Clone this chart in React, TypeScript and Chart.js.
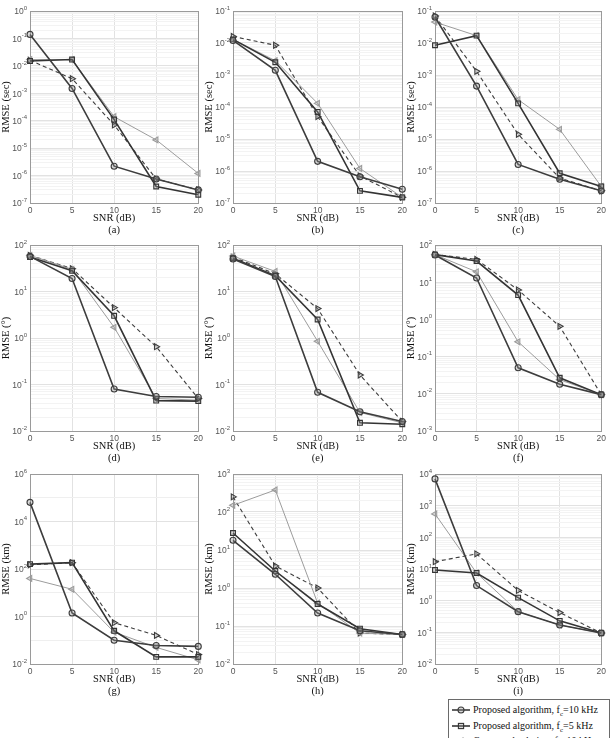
import React, { useEffect, useRef } from "react";
import { Chart, registerables } from "chart.js";

Chart.register(...registerables);

// SNR sweep shared by every panel
const snr = [0, 5, 10, 15, 20];

// Legend entries
const algorithmNames = ["Proposed algorithm", "Proposed algorithm", "Compared solution", "Compared solution"];
const carrierFreqs = ["10 kHz", "5 kHz", "10 kHz", "5 kHz"];

// (a) delay RMSE, sec
const aProp10 = [0.14, 1.5e-3, 2.2e-6, 7.5e-7, 3e-7];
const aProp5 = [1.5e-2, 1.7e-2, 1.1e-4, 4e-7, 2e-7];
const aComp10 = [1.7e-2, 1.7e-2, 1.4e-4, 2e-5, 1.2e-6];
const aComp5 = [1.6e-2, 3.4e-3, 7e-5, 7.5e-7, 3e-7];

// (b) delay RMSE, sec
const bProp10 = [1.2e-2, 1.4e-3, 2e-6, 6.6e-7, 2.7e-7];
const bProp5 = [1.3e-2, 2.5e-3, 7e-5, 2.4e-7, 1.5e-7];
const bComp10 = [1.3e-2, 2.8e-3, 1.3e-4, 1.2e-6, 1.5e-7];
const bComp5 = [1.6e-2, 8.5e-3, 5e-5, 7e-7, 1.5e-7];

// (c) delay RMSE, sec
const cProp10 = [6.5e-2, 4.5e-4, 1.6e-6, 5.5e-7, 2.4e-7];
const cProp5 = [8.5e-3, 1.7e-2, 1.3e-4, 8.5e-7, 3.3e-7];
const cComp10 = [4.5e-2, 1.7e-2, 1.7e-4, 2e-5, 3.3e-7];
const cComp5 = [7e-2, 1.3e-3, 1.4e-5, 6e-7, 2.4e-7];

// (d) angle RMSE, degrees
const dProp10 = [57, 19, 0.08, 0.055, 0.053];
const dProp5 = [55, 28, 3.0, 0.045, 0.044];
const dComp10 = [60, 30, 1.7, 0.05, 0.046];
const dComp5 = [60, 31, 4.5, 0.65, 0.05];

// (e) angle RMSE, degrees
const eProp10 = [50, 21, 0.068, 0.026, 0.016];
const eProp5 = [52, 22, 2.5, 0.015, 0.014];
const eComp10 = [58, 27, 0.85, 0.025, 0.015];
const eComp5 = [55, 24, 4.3, 0.16, 0.016];

// (f) angle RMSE, degrees
const fProp10 = [54, 13, 0.05, 0.018, 0.0095];
const fProp5 = [55, 37, 4.5, 0.027, 0.0095];
const fComp10 = [55, 19, 0.25, 0.024, 0.0095];
const fComp5 = [56, 41, 6.2, 0.65, 0.0095];

// (g) range RMSE, km
const gProp10 = [6.4e4, 1.4, 0.1, 0.06, 0.055];
const gProp5 = [160, 185, 0.25, 0.02, 0.02];
const gComp10 = [40, 14, 0.22, 0.05, 0.015];
const gComp5 = [150, 185, 0.55, 0.16, 0.025];

// (h) range RMSE, km
const hProp10 = [18, 2.3, 0.22, 0.075, 0.06];
const hProp5 = [28, 2.8, 0.38, 0.085, 0.06];
const hComp10 = [150, 380, 0.4, 0.065, 0.06];
const hComp5 = [250, 3.8, 1.0, 0.065, 0.06];

// (i) range RMSE, km
const iProp10 = [7000, 3.0, 0.45, 0.17, 0.095];
const iProp5 = [9.3, 7.5, 1.25, 0.23, 0.095];
const iComp10 = [550, 7.5, 0.45, 0.17, 0.095];
const iComp5 = [17, 30, 2.1, 0.42, 0.095];

// Grid placement of the plot boxes (page pixels)
const colLeft = [30, 233, 435];
const colRight = [200, 404, 603];
const rowTop = [11, 245, 474];
const rowBottom = [203, 431, 664];

type PanelDef = {
  tag: string;
  yTitle: string;
  yMin: number;
  yMax: number;
  step: number;
  minor: boolean;
  series: number[][];
};

const panels: PanelDef[] = [
  { tag: "(a)", yTitle: "RMSE (sec)", yMin: 1e-7, yMax: 1, step: 1, minor: true, series: [aProp10, aProp5, aComp10, aComp5] },
  { tag: "(b)", yTitle: "RMSE (sec)", yMin: 1e-7, yMax: 1e-1, step: 1, minor: true, series: [bProp10, bProp5, bComp10, bComp5] },
  { tag: "(c)", yTitle: "RMSE (sec)", yMin: 1e-7, yMax: 1e-1, step: 1, minor: true, series: [cProp10, cProp5, cComp10, cComp5] },
  { tag: "(d)", yTitle: "RMSE (°)", yMin: 1e-2, yMax: 1e2, step: 1, minor: true, series: [dProp10, dProp5, dComp10, dComp5] },
  { tag: "(e)", yTitle: "RMSE (°)", yMin: 1e-2, yMax: 1e2, step: 1, minor: true, series: [eProp10, eProp5, eComp10, eComp5] },
  { tag: "(f)", yTitle: "RMSE (°)", yMin: 1e-3, yMax: 1e2, step: 1, minor: true, series: [fProp10, fProp5, fComp10, fComp5] },
  { tag: "(g)", yTitle: "RMSE (km)", yMin: 1e-2, yMax: 1e6, step: 2, minor: false, series: [gProp10, gProp5, gComp10, gComp5] },
  { tag: "(h)", yTitle: "RMSE (km)", yMin: 1e-2, yMax: 1e3, step: 1, minor: true, series: [hProp10, hProp5, hComp10, hComp5] },
  { tag: "(i)", yTitle: "RMSE (km)", yMin: 1e-2, yMax: 1e4, step: 1, minor: true, series: [iProp10, iProp5, iComp10, iComp5] },
];

// Series styling: dark solid with circles, dark solid with squares,
// light solid with left triangles, dark dashed with right triangles
const lineColors = ["#3d3d3d", "#343434", "#9c9c9c", "#3d3d3d"];
const lineWidths = [1.6, 1.6, 1, 1.1];
const lineDashes = [[], [], [], [4, 3]];
const pointStyles = ["circle", "rect", "triangle", "triangle"];
const pointRotations = [0, 0, -90, 90];
const pointRadii = [3, 3.4, 3.4, 3.4];

const SANS = "'Liberation Sans', Arial, sans-serif";
const SERIF = "'Liberation Serif', 'Times New Roman', serif";

const isDecade = (v: number) => {
  const l = Math.log10(v);
  return Math.abs(l - Math.round(l)) < 1e-6;
};

// Box outline under the data, power-of-ten labels after everything
const framePlugin = {
  id: "frameAndLogLabels",
  beforeDatasetsDraw(chart: any) {
    const { ctx, chartArea } = chart;
    const { left, top, right, bottom } = chartArea;
    ctx.save();
    ctx.strokeStyle = "#9a9a9a";
    ctx.lineWidth = 1;
    ctx.strokeRect(Math.round(left) + 0.5, Math.round(top) + 0.5, Math.round(right - left), Math.round(bottom - top));
    ctx.restore();
  },
  afterDraw(chart: any) {
    const { ctx, chartArea } = chart;
    const ys = chart.scales.y;
    const step = chart.options.plugins.frameAndLogLabels.step;
    const e0 = Math.round(Math.log10(ys.min));
    const e1 = Math.round(Math.log10(ys.max));
    ctx.save();
    ctx.fillStyle = "#555";
    ctx.textBaseline = "middle";
    ctx.textAlign = "left";
    for (let e = e0; e <= e1; e += step) {
      const py = ys.getPixelForValue(Math.pow(10, e));
      const exp = String(e);
      ctx.font = `6px ${SANS}`;
      const w2 = ctx.measureText(exp).width;
      ctx.font = `8.5px ${SANS}`;
      const w1 = ctx.measureText("10").width;
      const xr = chartArea.left - 3;
      ctx.fillText("10", xr - w2 - w1, py + 1);
      ctx.font = `6px ${SANS}`;
      ctx.fillText(exp, xr - w2, py - 3);
    }
    ctx.restore();
  },
};

function Panel({ def, col, row }: { def: PanelDef; col: number; row: number }) {
  const ref = useRef<HTMLCanvasElement | null>(null);
  const plotW = colRight[col] - colLeft[col];
  const plotH = rowBottom[row] - rowTop[row];
  const left = colLeft[col] - 30;
  const top = rowTop[row] - 8;
  const w = plotW + 36;
  const h = plotH + 44;

  useEffect(() => {
    if (!ref.current) return;
    const datasets = def.series.map((vals, k) => ({
      label: `${algorithmNames[k]}, fc=${carrierFreqs[k]}`,
      data: vals.map((v, j) => ({ x: snr[j], y: v })),
      borderColor: lineColors[k],
      borderWidth: lineWidths[k],
      borderDash: lineDashes[k],
      pointStyle: pointStyles[k],
      pointRotation: pointRotations[k],
      pointRadius: pointRadii[k],
      pointBorderWidth: 1.1,
      pointBorderColor: lineColors[k],
      pointBackgroundColor: "rgba(150,150,150,0.35)",
      fill: false,
      tension: 0,
      clip: false as any,
    }));

    const chart = new Chart(ref.current, {
      type: "line",
      data: { datasets },
      options: {
        animation: false,
        responsive: false,
        events: [],
        layout: { padding: { left: 0, top: 8, right: 6, bottom: 0 } },
        plugins: {
          legend: { display: false },
          tooltip: { enabled: false },
          frameAndLogLabels: { step: def.step },
        } as any,
        scales: {
          x: {
            type: "linear",
            min: 0,
            max: 20,
            ticks: { stepSize: 5, padding: 3, color: "#555", font: { family: SANS, size: 8.5 } },
            grid: { color: "#e2e2e2", lineWidth: 1, drawTicks: false },
            border: { display: false },
            title: {
              display: true,
              text: ["SNR (dB)", def.tag],
              color: "#111",
              font: { family: SERIF, size: 10.5, lineHeight: 1.15 },
              padding: { top: 0, bottom: 3 },
            },
            afterFit: (s: any) => {
              s.height = 36;
            },
          },
          y: {
            type: "logarithmic",
            min: def.yMin,
            max: def.yMax,
            ticks: { display: false },
            grid: {
              drawTicks: false,
              lineWidth: 1,
              color: (c: any) => {
                const v = c.tick ? c.tick.value : 1;
                if (!isDecade(v)) return "#f3f3f3";
                const e = Math.round(Math.log10(v));
                return (e - Math.round(Math.log10(def.yMin))) % def.step === 0 ? "#e2e2e2" : "#efefef";
              },
            },
            border: { display: false },
            title: {
              display: true,
              text: def.yTitle,
              color: "#111",
              font: { family: SERIF, size: 10.5, lineHeight: 1.15 },
              padding: { top: 0, bottom: 0 },
            },
            afterBuildTicks: (s: any) => {
              const e0 = Math.round(Math.log10(def.yMin));
              const e1 = Math.round(Math.log10(def.yMax));
              const ticks: { value: number }[] = [];
              for (let e = e0; e <= e1; e++) {
                const mults = def.minor ? [1, 2, 3, 4, 5, 6, 7, 8, 9] : [1];
                for (const m of mults) {
                  const v = m * Math.pow(10, e);
                  if (v <= def.yMax * 1.0001) ticks.push({ value: v });
                }
              }
              s.ticks = ticks;
            },
            afterFit: (s: any) => {
              s.width = 30;
            },
          },
        },
      } as any,
      plugins: [framePlugin],
    });
    return () => chart.destroy();
  }, []);

  return (
    <div style={{ position: "absolute", left, top, width: w, height: h }}>
      <canvas ref={ref} width={w} height={h} style={{ width: w, height: h, display: "block" }} />
    </div>
  );
}

function LegendSample({ k }: { k: number }) {
  const c = lineColors[k];
  const cx = 10;
  const cy = 6;
  let marker: React.ReactNode = null;
  if (pointStyles[k] === "circle") {
    marker = <circle cx={cx} cy={cy} r={3} fill="rgba(150,150,150,0.35)" stroke={c} strokeWidth={1.1} />;
  } else if (pointStyles[k] === "rect") {
    marker = <rect x={cx - 2.6} y={cy - 2.6} width={5.2} height={5.2} fill="rgba(150,150,150,0.35)" stroke={c} strokeWidth={1.1} />;
  } else {
    const dir = pointRotations[k] < 0 ? -1 : 1;
    const pts = `${cx + dir * 3.4},${cy} ${cx - dir * 2},${cy - 3} ${cx - dir * 2},${cy + 3}`;
    marker = <polygon points={pts} fill="rgba(150,150,150,0.35)" stroke={c} strokeWidth={1.1} />;
  }
  return (
    <svg width={20} height={12} style={{ display: "block", flex: "none" }}>
      <line x1={1} y1={cy} x2={19} y2={cy} stroke={c} strokeWidth={lineWidths[k]} strokeDasharray={lineDashes[k].join(" ")} />
      {marker}
    </svg>
  );
}

function Legend() {
  return (
    <div
      style={{
        position: "absolute",
        left: 448,
        top: 699,
        width: 162,
        height: 64,
        border: "1px solid #6a6a6a",
        background: "#fff",
        fontFamily: SERIF,
        fontSize: 10,
        color: "#111",
        boxSizing: "border-box",
      }}
    >
      {algorithmNames.map((name, k) => (
        <div
          key={k}
          style={{
            position: "absolute",
            left: 2,
            top: 3 + k * 15.6,
            height: 14,
            display: "flex",
            alignItems: "center",
            whiteSpace: "nowrap",
            lineHeight: "14px",
          }}
        >
          <LegendSample k={k} />
          <span style={{ marginLeft: 2 }}>
            {name}, f<sub style={{ fontSize: 7, verticalAlign: "-3px", lineHeight: 0 }}>c</sub>={carrierFreqs[k]}
          </span>
        </div>
      ))}
    </div>
  );
}

export default function App() {
  return (
    <div
      style={{
        position: "absolute",
        left: 0,
        top: 0,
        width: 612,
        height: 738,
        overflow: "hidden",
        background: "#fff",
      }}
    >
      {panels.map((p, i) => (
        <Panel key={i} def={p} col={i % 3} row={Math.floor(i / 3)} />
      ))}
      <Legend />
    </div>
  );
}
